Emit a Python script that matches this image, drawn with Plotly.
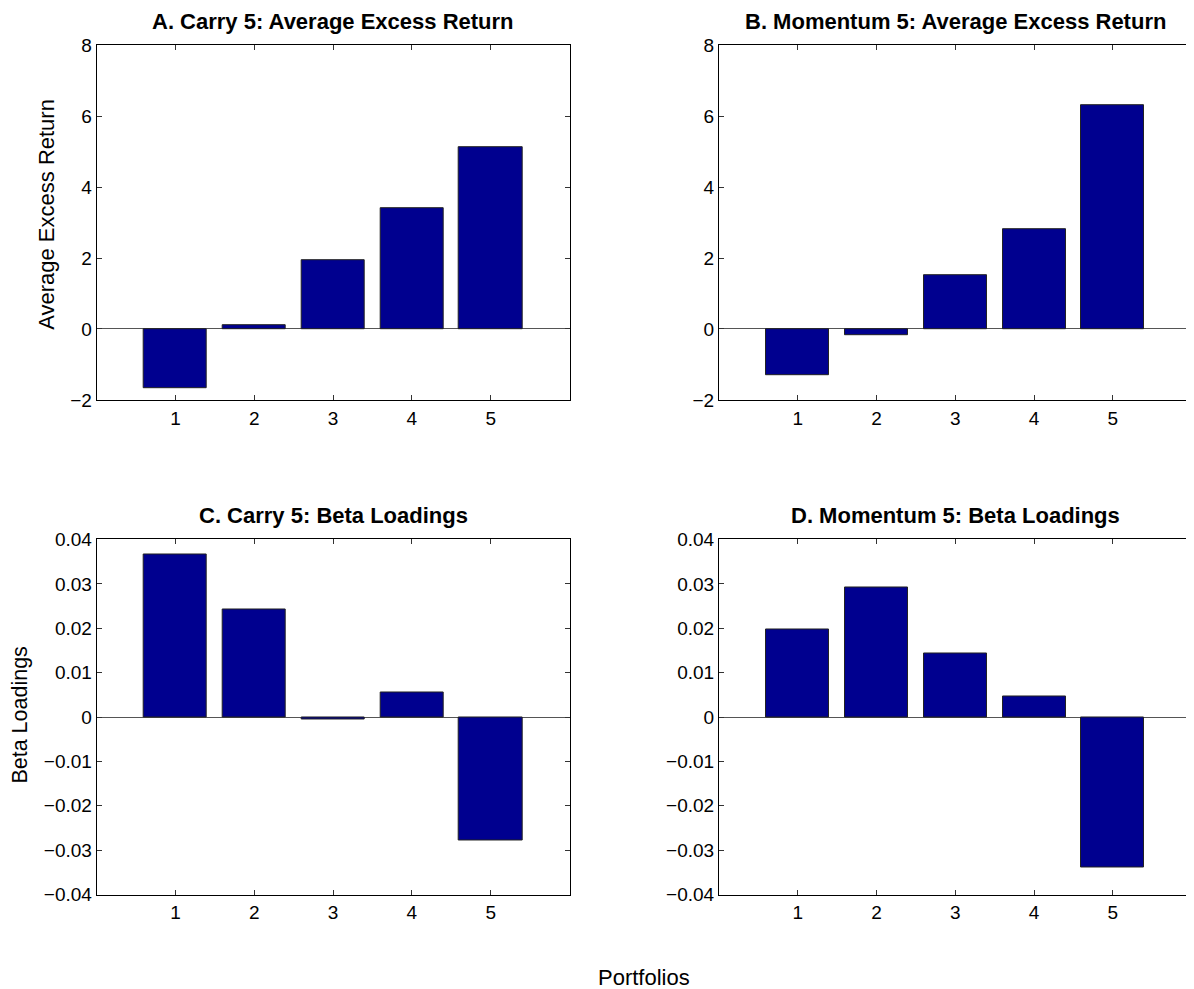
import plotly.graph_objects as go

portfolios = [1, 2, 3, 4, 5]
carry_excess = [-1.67, 0.12, 1.93, 3.41, 5.12]
momentum_excess = [-1.30, -0.17, 1.51, 2.80, 6.30]
carry_beta = [0.0367, 0.0242, -0.0006, 0.0056, -0.0278]
momentum_beta = [0.0197, 0.0291, 0.0142, 0.0047, -0.0338]

titles = ["A. Carry 5: Average Excess Return", "B. Momentum 5: Average Excess Return",
          "C. Carry 5: Beta Loadings", "D. Momentum 5: Beta Loadings"]

PAGE_W, PAGE_H = 1194, 989
OFF = 8  # default body margin of the html page
W, H = PAGE_W - OFF, PAGE_H - OFF
FONT = "Liberation Sans, Arial, Helvetica, sans-serif"
BAR = "#00008F"


def px(p):
    return (p - OFF) / W


def py(p):
    q = (p - 10.5) / 0.978  # empirical vertical calibration of the screenshot
    return 1 - (q - OFF) / H


# panel pixel boxes in picture coords (left, right, top, bottom)
boxes = [(96.7, 569.5, 45.5, 400), (719, 1191.5, 45.5, 400),
         (96.7, 569.5, 539.5, 894.3), (719, 1191.5, 539.5, 894.3)]
data = [carry_excess, momentum_excess, carry_beta, momentum_beta]

fig = go.Figure()
annotations = []
for i, (vals, box) in enumerate(zip(data, boxes)):
    n = i + 1
    xa = "x" if n == 1 else f"x{n}"
    ya = "y" if n == 1 else f"y{n}"
    fig.add_trace(go.Bar(x=portfolios, y=vals, width=0.8, xaxis=xa, yaxis=ya,
                         marker=dict(color=BAR, line=dict(color="#222222", width=1)),
                         showlegend=False))
    l, r, t, b = box
    xdom = [px(l), px(r)]
    ydom = [py(b), py(t)]
    if i < 2:
        yr = [-2, 8]
        tv = [-2, 0, 2, 4, 6, 8]
        tt = None
    else:
        yr = [-0.04, 0.04]
        tv = [-0.04, -0.03, -0.02, -0.01, 0, 0.01, 0.02, 0.03, 0.04]
        tt = ["\u22120.04", "\u22120.03", "\u22120.02", "\u22120.01", "0",
              "0.01", "0.02", "0.03", "0.04"]
    ax_common = dict(showline=True, linecolor="black", linewidth=1, mirror="ticks",
                     ticks="inside", ticklen=5, tickcolor="#333333", showgrid=False,
                     tickfont=dict(family=FONT, size=19, color="black"))
    fig.layout[f"xaxis{'' if n == 1 else n}"] = dict(
        domain=xdom, range=[0, 6], tickvals=portfolios, anchor=ya,
        zeroline=False, ticklabelstandoff=1, **ax_common)
    yd = dict(domain=ydom, range=yr, tickvals=tv, anchor=xa, zeroline=True,
              zerolinecolor="#555555", zerolinewidth=1, **ax_common)
    if tt:
        yd["ticktext"] = tt
    fig.layout[f"yaxis{'' if n == 1 else n}"] = yd
    annotations.append(dict(text=f"<b>{titles[i]}</b>", x=px((l + r) / 2),
                            y=py(22 if i < 2 else 516),
                            xref="paper", yref="paper", showarrow=False,
                            xanchor="center", yanchor="middle",
                            font=dict(family=FONT, size=22, color="black")))

annotations.append(dict(text="Average Excess Return", x=px(47), y=py(215),
                        xref="paper", yref="paper", showarrow=False, textangle=-90,
                        xanchor="center", yanchor="middle",
                        font=dict(family=FONT, size=22, color="black")))
annotations.append(dict(text="Beta Loadings", x=px(20), y=py(715.5),
                        xref="paper", yref="paper", showarrow=False, textangle=-90,
                        xanchor="center", yanchor="middle",
                        font=dict(family=FONT, size=21.5, color="black")))
annotations.append(dict(text="Portfolios", x=px(644), y=py(977),
                        xref="paper", yref="paper", showarrow=False,
                        xanchor="center", yanchor="middle",
                        font=dict(family=FONT, size=22, color="black")))

fig.update_layout(width=W, height=H, margin=dict(l=0, r=0, t=0, b=0),
                  paper_bgcolor="white", plot_bgcolor="white",
                  annotations=annotations, bargap=0)
fig.write_html("out.html")
